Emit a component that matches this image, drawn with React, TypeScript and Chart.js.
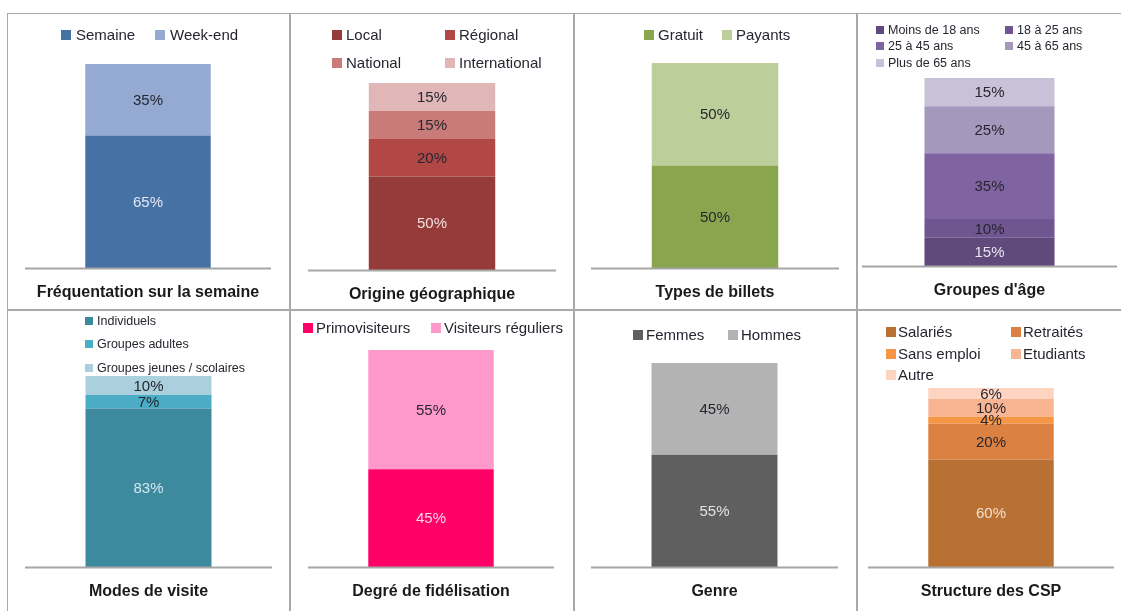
import React, { useEffect, useRef } from "react";
import { Chart, registerables } from "chart.js";

Chart.register(...registerables);

const FONT = "'Liberation Sans', Arial, Helvetica, sans-serif";

// ---------- data ----------
const frequentationCategories = ["Semaine", "Week-end"];
const frequentationValues = [65, 35];

const origineCategories = ["Local", "Régional", "National", "International"];
const origineValues = [50, 20, 15, 15];

const billetsCategories = ["Gratuit", "Payants"];
const billetsValues = [50, 50];

const ageCategories = ["Moins de 18 ans", "18 à 25 ans", "25 à 45 ans", "45 à 65 ans", "Plus de 65 ans"];
const ageValues = [15, 10, 35, 25, 15];

const modesCategories = ["Individuels", "Groupes adultes", "Groupes jeunes / scolaires"];
const modesValues = [83, 7, 10];

const fidelisationCategories = ["Primovisiteurs", "Visiteurs réguliers"];
const fidelisationValues = [45, 55];

const genreCategories = ["Femmes", "Hommes"];
const genreValues = [55, 45];

const cspCategories = ["Salariés", "Retraités", "Sans emploi", "Etudiants", "Autre"];
const cspValues = [60, 20, 4, 10, 6];

const panelTitles = [
  "Fréquentation sur la semaine",
  "Origine géographique",
  "Types de billets",
  "Groupes d'âge",
  "Modes de visite",
  "Degré de fidélisation",
  "Genre",
  "Structure des CSP",
];

// ---------- styles ----------
const DARK_TXT = "#262630";

const panels = [
  {
    title: panelTitles[0],
    categories: frequentationCategories,
    values: frequentationValues,
    colors: ["#4571a5", "#95aad2"],
    labelColors: ["#e2e9f3", DARK_TXT],
    box: { x: 7, y: 13, w: 283, h: 297 },
    border: { r: true, b: true },
    pad: { left: 18, right: 19, top: 51, bottom: 42 },
    legend: { size: 15, marker: 10, offset: 15, pos: [[54, 22], [148, 22]] },
  },
  {
    title: panelTitles[1],
    categories: origineCategories,
    values: origineValues,
    colors: ["#953b3a", "#b24845", "#c97b7a", "#e0b7b6"],
    labelColors: ["#f5e0e0", DARK_TXT, DARK_TXT, DARK_TXT],
    box: { x: 290, y: 13, w: 284, h: 297 },
    border: { r: true, b: true },
    pad: { left: 18, right: 18, top: 70, bottom: 40 },
    legend: { size: 15, marker: 10, offset: 14, pos: [[42, 22], [155, 22], [42, 50], [155, 50]] },
  },
  {
    title: panelTitles[2],
    categories: billetsCategories,
    values: billetsValues,
    colors: ["#89a54e", "#bccf9a"],
    labelColors: [DARK_TXT, DARK_TXT],
    box: { x: 574, y: 13, w: 283, h: 297 },
    border: { r: true, b: true },
    pad: { left: 17, right: 18, top: 50, bottom: 42 },
    legend: { size: 15, marker: 10, offset: 14, pos: [[70, 22], [148, 22]] },
  },
  {
    title: panelTitles[3],
    categories: ageCategories,
    values: ageValues,
    colors: ["#604a7b", "#6f5690", "#8064a2", "#a697bd", "#c8c1d8"],
    labelColors: ["#e8e2f0", DARK_TXT, DARK_TXT, DARK_TXT, DARK_TXT],
    box: { x: 857, y: 13, w: 264, h: 297 },
    border: { r: false, b: true },
    pad: { left: 5, right: 4, top: 65, bottom: 44 },
    legend: { size: 12.5, marker: 8, offset: 12, pos: [[19, 17], [148, 17], [19, 33], [148, 33], [19, 50]] },
  },
  {
    title: panelTitles[4],
    categories: modesCategories,
    values: modesValues,
    colors: ["#3d8a9f", "#4bacc6", "#a9d0dc"],
    labelColors: ["#d3e8ee", DARK_TXT, DARK_TXT],
    box: { x: 7, y: 310, w: 283, h: 301 },
    border: { r: true, b: false },
    pad: { left: 18, right: 18, top: 66, bottom: 44 },
    legend: { size: 12.5, marker: 8, offset: 12, pos: [[78, 11], [78, 34], [78, 58]] },
  },
  {
    title: panelTitles[5],
    categories: fidelisationCategories,
    values: fidelisationValues,
    colors: ["#ff0066", "#ff99cc"],
    labelColors: ["#ffd3e6", DARK_TXT],
    box: { x: 290, y: 310, w: 284, h: 301 },
    border: { r: true, b: false },
    pad: { left: 18, right: 20, top: 40, bottom: 44 },
    legend: { size: 15, marker: 10, offset: 13, pos: [[13, 18], [141, 18]] },
  },
  {
    title: panelTitles[6],
    categories: genreCategories,
    values: genreValues,
    colors: ["#5f5f5f", "#b3b3b3"],
    labelColors: ["#e2e2e2", DARK_TXT],
    box: { x: 574, y: 310, w: 283, h: 301 },
    border: { r: true, b: false },
    pad: { left: 17, right: 19, top: 53, bottom: 44 },
    legend: { size: 15, marker: 10, offset: 13, pos: [[59, 25], [154, 25]] },
  },
  {
    title: panelTitles[7],
    categories: cspCategories,
    values: cspValues,
    colors: ["#b87133", "#dc8141", "#f79646", "#f9b592", "#fcd4c0"],
    labelColors: ["#f6e0cd", DARK_TXT, DARK_TXT, DARK_TXT, DARK_TXT],
    box: { x: 857, y: 310, w: 264, h: 301 },
    border: { r: false, b: false },
    pad: { left: 11, right: 7, top: 78, bottom: 44 },
    legend: { size: 15, marker: 10, offset: 12, pos: [[29, 22], [154, 22], [29, 44], [154, 44], [29, 65]] },
  },
];

// ---------- plugin: legend grid, value labels, baseline, title ----------
const decorPlugin = {
  id: "panelDecor",
  afterDatasetsDraw(chart: any, _args: any, opts: any) {
    const ctx = chart.ctx;
    const area = chart.chartArea;
    ctx.save();
    // value labels
    ctx.font = `15px ${FONT}`;
    ctx.textAlign = "center";
    ctx.textBaseline = "middle";
    chart.data.datasets.forEach((ds: any, i: number) => {
      const meta = chart.getDatasetMeta(i);
      meta.data.forEach((el: any, j: number) => {
        const v = ds.data[j];
        const cy = (el.y + el.base) / 2;
        ctx.fillStyle = opts.labelColors[i];
        ctx.fillText(`${v}%`, el.x, cy + 1);
      });
    });
    // baseline
    ctx.strokeStyle = "#a6a6a6";
    ctx.lineWidth = 2;
    ctx.beginPath();
    ctx.moveTo(area.left, area.bottom + 0.5);
    ctx.lineTo(area.right, area.bottom + 0.5);
    ctx.stroke();
    // title
    ctx.fillStyle = "#1a1a1a";
    ctx.font = `bold 16px ${FONT}`;
    ctx.fillText(opts.title, (area.left + area.right) / 2, area.bottom + 25);
    // legend
    const lg = opts.legend;
    ctx.font = `${lg.size}px ${FONT}`;
    ctx.textAlign = "left";
    chart.data.datasets.forEach((ds: any, i: number) => {
      const [x, y] = lg.pos[i];
      ctx.fillStyle = ds.backgroundColor;
      ctx.fillRect(x, y - lg.marker / 2, lg.marker, lg.marker);
      ctx.fillStyle = DARK_TXT;
      ctx.fillText(ds.label, x + lg.offset, y + 1);
    });
    ctx.restore();
  },
};

function Panel({ cfg }: { cfg: any }) {
  const ref = useRef<HTMLCanvasElement | null>(null);
  useEffect(() => {
    if (!ref.current) return;
    const chart = new Chart(ref.current, {
      type: "bar",
      data: {
        labels: [""],
        datasets: cfg.categories.map((c: string, i: number) => ({
          label: c,
          data: [cfg.values[i]],
          backgroundColor: cfg.colors[i],
          borderWidth: 0,
          categoryPercentage: 1,
          barPercentage: 0.51,
        })),
      },
      options: {
        responsive: false,
        maintainAspectRatio: false,
        animation: false,
        devicePixelRatio: 1,
        layout: { padding: cfg.pad },
        scales: {
          x: { stacked: true, display: false },
          y: { stacked: true, display: false, min: 0, max: 100 },
        },
        plugins: {
          legend: { display: false },
          title: { display: false },
          tooltip: { enabled: false },
          panelDecor: { title: cfg.title, labelColors: cfg.labelColors, legend: cfg.legend },
        } as any,
      },
      plugins: [decorPlugin as any],
    });
    return () => chart.destroy();
  }, []);
  const { x, y, w, h } = cfg.box;
  const line = "1px solid #a9a9a9";
  return (
    <div style={{ position: "absolute", left: x, top: y, width: w, height: h, background: "#fff" }}>
      <canvas ref={ref} width={w} height={h} style={{ display: "block", width: w, height: h }} />
      <div
        style={{
          position: "absolute",
          left: 0,
          top: 0,
          width: w,
          height: h,
          boxSizing: "border-box",
          borderLeft: line,
          borderTop: line,
          borderRight: cfg.border.r ? line : "none",
          borderBottom: cfg.border.b ? line : "none",
          pointerEvents: "none",
        }}
      />
    </div>
  );
}

export default function App() {
  return (
    <div style={{ position: "absolute", left: 0, top: 0, width: 1121, height: 611, background: "#fff", overflow: "hidden" }}>
      {panels.map((p, i) => (
        <Panel key={i} cfg={p} />
      ))}
    </div>
  );
}
